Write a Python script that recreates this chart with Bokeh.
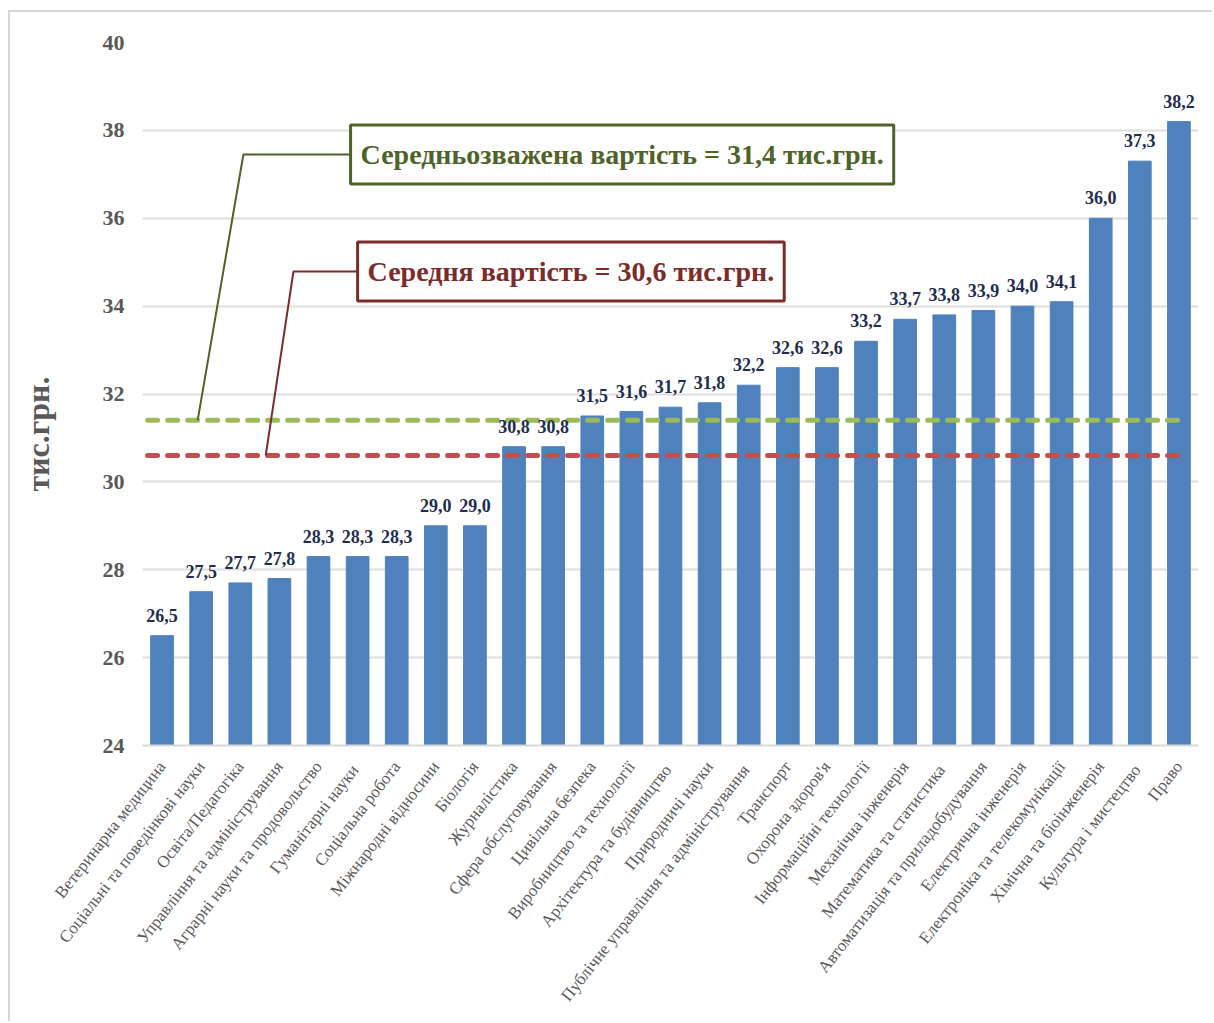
from math import radians

from bokeh.plotting import figure
from bokeh.models import Label, FactorRange, Range1d, FixedTicker
from bokeh.embed import file_html
from bokeh.resources import INLINE
from bokeh.core.properties import value

# Average cost by field of study, thousand UAH
specialties = [
    "Ветеринарна медицина",
    "Соціальні та поведінкові науки",
    "Освіта/Педагогіка",
    "Управління та адміністрування",
    "Аграрні науки та продовольство",
    "Гуманітарні  науки",
    "Соціальна робота",
    "Міжнародні відносини",
    "Біологія",
    "Журналістика",
    "Сфера обслуговування",
    "Цивільна безпека",
    "Виробництво та технології",
    "Архітектура  та будівництво",
    "Природничі науки",
    "Публічне управління  та адміністрування",
    "Транспорт",
    "Охорона здоров'я",
    "Інформаційні технології",
    "Механічна інженерія",
    "Математика  та статистика",
    "Автоматизація та приладобудування",
    "Електрична інженерія",
    "Електроніка та телекомунікації",
    "Хімічна та біоінженерія",
    "Культура  і мистецтво",
    "Право",
]
costs = [26.5, 27.5, 27.7, 27.8, 28.3, 28.3, 28.3, 29.0, 29.0, 30.8, 30.8,
         31.5, 31.6, 31.7, 31.8, 32.2, 32.6, 32.6, 33.2, 33.7, 33.8, 33.9,
         34.0, 34.1, 36.0, 37.3, 38.2]
weighted_avg = 31.4
simple_avg = 30.6
y_ticks = [24, 26, 28, 30, 32, 34, 36, 38, 40]
unit_label = "тис.грн."

cost_labels = [f"{v:.1f}".replace(".", ",") for v in costs]

SERIF = "Liberation Serif"
GRAY = "#595959"
GREEN_DARK = "#4F6228"
RED_DARK = "#7B2C2A"

p = figure(
    x_range=FactorRange(*specialties, range_padding=0),
    y_range=Range1d(24, 40),
    width=1204, height=1011,
    min_border_left=132, min_border_right=16,
    min_border_top=30, min_border_bottom=278,
    output_backend="svg", toolbar_location=None,
)
p.styles = {
    "margin-left": "8px", "margin-top": "10px",
    "border-left": "2px solid #d6d6d6", "border-top": "2px solid #d6d6d6",
}
p.outline_line_color = None
p.background_fill_color = "white"
p.border_fill_color = "white"

# bars
p.vbar(x=specialties, top=costs, bottom=24, width=0.58,
       fill_color="#4F81BD", line_color="#4F81BD")

# average lines
p.segment(x0=[0.13], x1=[26.55], y0=[weighted_avg], y1=[weighted_avg],
          line_color="#9BBB59", line_width=5, line_dash="10 10", line_cap="round")
p.segment(x0=[0.13], x1=[26.55], y0=[simple_avg], y1=[simple_avg],
          line_color="#C0504D", line_width=5, line_dash="10 10", line_cap="round")

# value labels above bars
p.text(x=specialties, y=costs, text=cost_labels,
       text_font=value(SERIF), text_font_style="bold", text_font_size="18px",
       text_color="#1F2D4F", text_align="center", text_baseline="bottom",
       y_offset=-14)

# leader lines from the callouts to the average lines
p.line(x=[5.32, 2.58, 1.41], y=[37.45, 37.45, weighted_avg],
       line_color=GREEN_DARK, line_width=2)
p.line(x=[5.5, 3.86, 3.15], y=[34.79, 34.79, simple_avg],
       line_color=RED_DARK, line_width=2)

# callout boxes
p.add_layout(Label(
    x=5.32, y=37.45, text="Середньозважена вартість = 31,4 тис.грн.",
    text_font=SERIF, text_font_style="bold", text_font_size="28px",
    text_color=GREEN_DARK, text_align="left", text_baseline="middle",
    background_fill_color="white", border_line_color=GREEN_DARK,
    border_line_width=3, padding=(10, 14),
))
p.add_layout(Label(
    x=5.5, y=34.79, text="Середня вартість = 30,6 тис.грн.",
    text_font=SERIF, text_font_style="bold", text_font_size="28px",
    text_color=RED_DARK, text_align="left", text_baseline="middle",
    background_fill_color="white", border_line_color=RED_DARK,
    border_line_width=3, padding=(10, 14),
))

# axes
p.yaxis.ticker = FixedTicker(ticks=y_ticks)
p.yaxis.axis_line_color = None
p.yaxis.major_tick_line_color = None
p.yaxis.minor_tick_line_color = None
p.yaxis.major_label_text_font = SERIF
p.yaxis.major_label_text_font_style = "bold"
p.yaxis.major_label_text_font_size = "22px"
p.yaxis.major_label_text_color = GRAY
p.yaxis.major_label_standoff = 12
# unit label, padded with no-break spaces so it sits a little below centre
p.yaxis.axis_label = unit_label + "\u00a0" * 10
p.yaxis.axis_label_standoff = 44
p.yaxis.axis_label_text_font = SERIF
p.yaxis.axis_label_text_font_style = "bold"
p.yaxis.axis_label_text_font_size = "32px"
p.yaxis.axis_label_text_color = GRAY

p.xaxis.axis_line_color = "#D9D9D9"
p.xaxis.axis_line_width = 2
p.xaxis.major_tick_line_color = None
p.xaxis.minor_tick_line_color = None
p.xaxis.major_label_orientation = radians(52)
p.xaxis.major_label_text_font = SERIF
p.xaxis.major_label_text_font_size = "17px"
p.xaxis.major_label_text_color = GRAY
p.xaxis.major_label_standoff = 12

p.xgrid.grid_line_color = None
p.ygrid.grid_line_color = "#DEDEDE"
p.ygrid.grid_line_width = 2

open("out.html", "w").write(file_html(p, INLINE))
